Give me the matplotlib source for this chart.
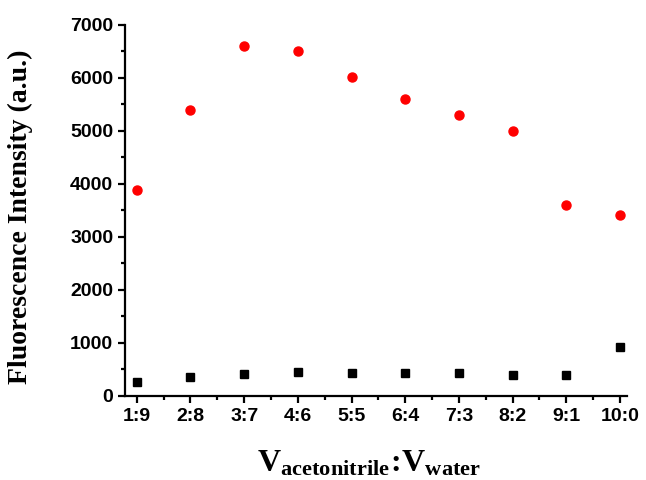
import matplotlib
matplotlib.use("Agg")
import matplotlib.pyplot as plt
from matplotlib.ticker import MultipleLocator

# ratio categories on the x axis
ratios = ["1:9", "2:8", "3:7", "4:6", "5:5", "6:4", "7:3", "8:2", "9:1", "10:0"]

# fluorescence intensity
red_series = [3890, 5400, 6600, 6510, 6020, 5600, 5300, 5000, 3600, 3420]
black_series = [270, 360, 415, 460, 440, 430, 430, 400, 400, 920]

plt.rcParams["mathtext.fontset"] = "custom"
plt.rcParams["mathtext.rm"] = "Liberation Serif"
plt.rcParams["mathtext.bf"] = "Liberation Serif:bold"
plt.rcParams["mathtext.it"] = "Liberation Serif:italic"

fig = plt.figure(figsize=(6.46, 4.8), dpi=100)
ax = fig.add_axes([0.1935, 0.175, 0.777, 0.773])

x = list(range(1, len(ratios) + 1))
ax.plot(x, black_series, linestyle="none", marker="s", markersize=6,
        color="black")
ax.plot(x, red_series, linestyle="none", marker="o", markersize=6.5,
        color="red")

ax.set_xlim(0.78, 10.13)
ax.set_ylim(0, 7000)

ax.set_xticks(x)
ax.set_xticklabels(ratios)
ax.xaxis.set_minor_locator(MultipleLocator(0.5))
ax.yaxis.set_major_locator(MultipleLocator(1000))
ax.yaxis.set_minor_locator(MultipleLocator(500))

for side in ["top", "right"]:
    ax.spines[side].set_visible(False)
for side in ["left", "bottom"]:
    ax.spines[side].set_linewidth(1.6)

ax.tick_params(which="major", direction="out", length=5, width=1.6,
               labelsize=14)
ax.tick_params(which="minor", direction="out", length=3, width=1.6)
for lab in ax.get_xticklabels() + ax.get_yticklabels():
    lab.set_fontfamily("Liberation Sans")
    lab.set_fontweight("bold")

ax.set_ylabel("Fluorescence Intensity (a.u.)", fontfamily="Liberation Serif",
              fontweight="bold", fontsize=20)
ax.yaxis.set_label_coords(-0.183, 0.482)
ax.set_xlabel(r"$\mathbf{V_{acetonitrile}\!:\!V_{water}}$", fontsize=23)
ax.xaxis.set_label_coords(0.486, -0.138)

fig.savefig("out.png", dpi=100)
